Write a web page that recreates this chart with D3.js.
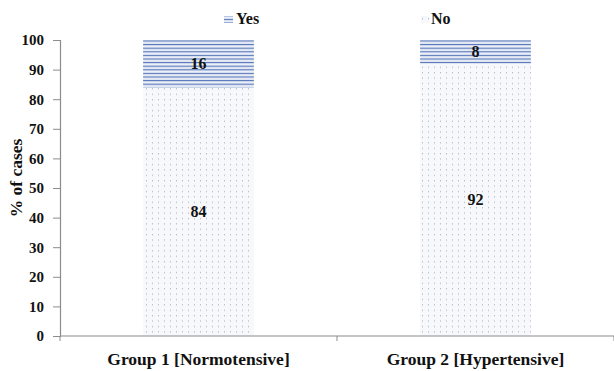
<!DOCTYPE html>
<html><head><meta charset="utf-8">
<script src="https://cdn.jsdelivr.net/npm/d3@7"></script>
<style>body{margin:0;background:#fff}svg{display:block}
svg text{font-family:"Liberation Serif","DejaVu Serif",serif !important;font-weight:bold;fill:#111}
</style>
</head><body>
<svg id="c" width="614" height="371"></svg>
<script>
const categories = ["Group 1 [Normotensive]", "Group 2 [Hypertensive]"];
const noValues = [84, 92];
const yesValues = [16, 8];
const yTicks = [0,10,20,30,40,50,60,70,80,90,100];
const seriesNames = ["Yes", "No"];

const svg = d3.select("#c");
const defs = svg.append("defs");
const hp = defs.append("pattern").attr("id","hatch").attr("patternUnits","userSpaceOnUse")
  .attr("width",8).attr("height",3.6);
hp.append("rect").attr("width",8).attr("height",3.6).attr("fill","#eef1f8");
hp.append("rect").attr("y",0.8).attr("width",8).attr("height",1.2).attr("fill","#5576b9");
const dp = defs.append("pattern").attr("id","dots").attr("patternUnits","userSpaceOnUse")
  .attr("width",6).attr("height",5.4);
dp.append("rect").attr("width",6).attr("height",5.4).attr("fill","#f6f8fb");
dp.append("rect").attr("x",2).attr("y",2).attr("width",1).attr("height",1).attr("fill","#a4a8ae");

const x = d3.scaleBand().domain(categories).range([60,614]).paddingInner(0.6).paddingOuter(0.3);
const y = d3.scaleLinear().domain([0,100]).range([336,40]);

// y axis
const yAxis = svg.append("g").attr("transform","translate(60,0)")
  .call(d3.axisLeft(y).tickValues(yTicks).tickSize(7).tickPadding(9));
yAxis.attr("font-family",null);
yAxis.select(".domain").attr("stroke","#8c8c8c").attr("stroke-width",1.2);
yAxis.selectAll(".tick line").attr("stroke","#8c8c8c");
yAxis.selectAll("text").attr("font-size",15).attr("fill","#111");

// bars
const g = svg.append("g");
categories.forEach((c,i)=>{
  g.append("rect").attr("x",x(c)).attr("width",x.bandwidth())
    .attr("y",y(noValues[i])).attr("height",y(0)-y(noValues[i])).attr("fill","url(#dots)");
  g.append("rect").attr("x",x(c)).attr("width",x.bandwidth())
    .attr("y",y(noValues[i]+yesValues[i])).attr("height",y(noValues[i])-y(noValues[i]+yesValues[i])).attr("fill","url(#hatch)");
  g.append("text").attr("x",x(c)+x.bandwidth()/2).attr("y",y(noValues[i]/2)).attr("dy","0.35em")
    .attr("text-anchor","middle").attr("font-size",16).text(noValues[i]);
  g.append("text").attr("x",x(c)+x.bandwidth()/2).attr("y",y(noValues[i]+yesValues[i]/2)).attr("dy","0.35em")
    .attr("text-anchor","middle").attr("font-size",16).text(yesValues[i]);
});

// x axis
const xa = svg.append("g");
xa.append("line").attr("x1",60).attr("x2",614).attr("y1",y(0)).attr("y2",y(0)).attr("stroke","#8c8c8c").attr("stroke-width",1.2);
const bounds = [60, (x(categories[0])+x.bandwidth()+x(categories[1]))/2, 614];
bounds.forEach(b=>xa.append("line").attr("x1",b).attr("x2",b).attr("y1",y(0)).attr("y2",y(0)+5).attr("stroke","#8c8c8c"));
categories.forEach(c=>{
  xa.append("text").attr("x",x(c)+x.bandwidth()/2).attr("y",365).attr("text-anchor","middle")
    .attr("font-size",17.5).text(c);
});

// y label
svg.append("text").attr("transform","translate(22,178) rotate(-90)").attr("text-anchor","middle")
  .attr("font-size",17.5).text("% of cases");

// legend
const lg = svg.append("g");
lg.append("rect").attr("x",224).attr("y",16).attr("width",9).attr("height",7).attr("fill","url(#hatch)");
lg.append("text").attr("x",236).attr("y",24).attr("font-size",16).text(seriesNames[0]);
lg.append("rect").attr("x",421).attr("y",16).attr("width",8).attr("height",7).attr("fill","url(#dots)");
lg.append("text").attr("x",431).attr("y",24).attr("font-size",16).text(seriesNames[1]);
</script>
</body></html>
